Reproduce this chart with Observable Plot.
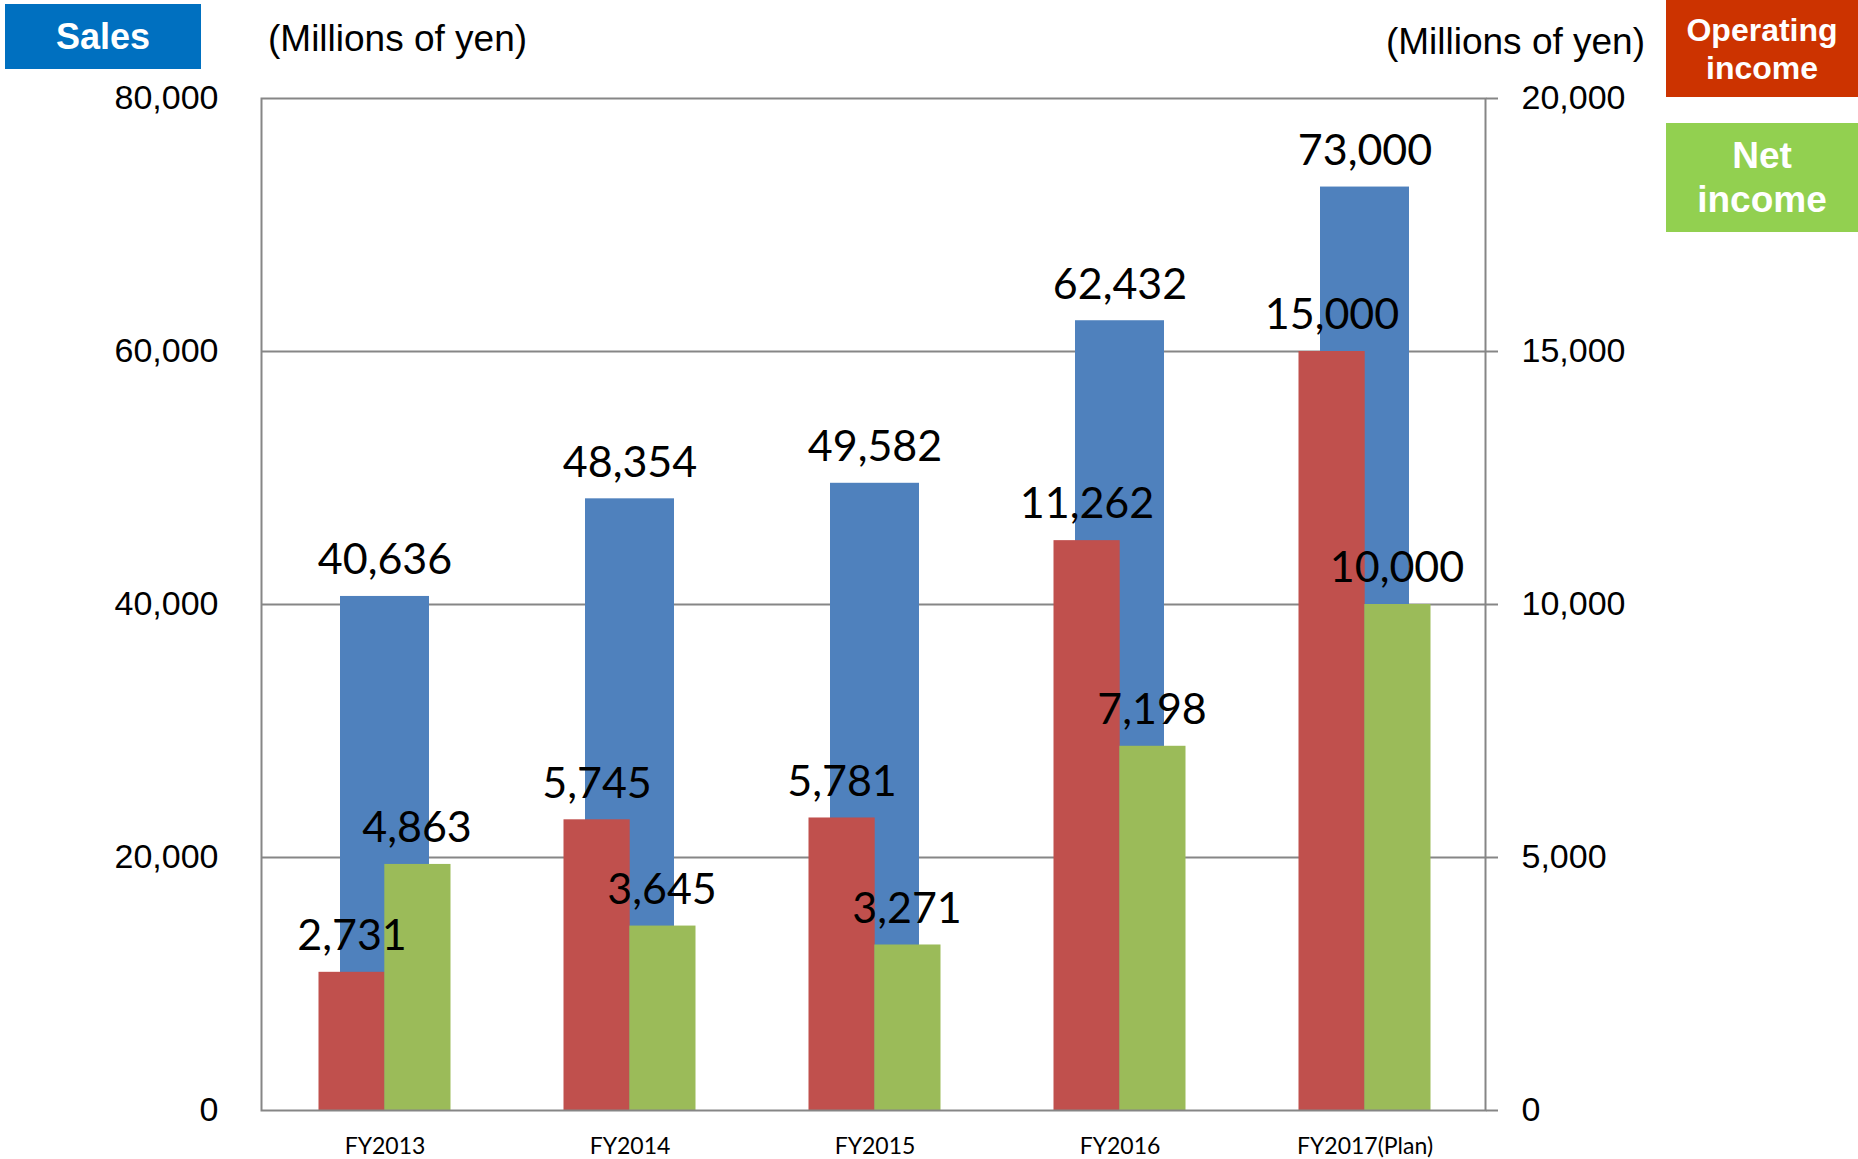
<!DOCTYPE html>
<html>
<head>
<meta charset="utf-8">
<script src="https://cdn.jsdelivr.net/npm/d3@7"></script>
<script src="https://cdn.jsdelivr.net/npm/@observablehq/plot@0.6"></script>
<style>
  html, body { margin: 0; padding: 0; background: #fff; }
  #wrap { position: relative; width: 1858px; height: 1159px; overflow: hidden; background: #fff; }
  #chart { position: absolute; left: 0; top: 0; }
  .box { position: absolute; color: #fff; font-family: "Liberation Sans", Arial, sans-serif; font-weight: bold; text-align: center; display: flex; align-items: center; justify-content: center; }
  .unit { position: absolute; font-family: "Liberation Sans", Arial, sans-serif; font-size: 37px; color: #000; line-height: 1; white-space: nowrap; }
</style>
</head>
<body>
<div id="wrap">
  <div id="chart"></div>
  <div class="box" style="left:5px;top:4px;width:196px;height:65px;background:#0070C0;font-size:36px;">Sales</div>
  <div class="unit" style="left:268px;top:20px;">(Millions of yen)</div>
  <div class="unit" style="right:213px;top:23px;">(Millions of yen)</div>
  <div class="box" style="left:1666px;top:0px;width:192px;height:97px;background:#CC3300;font-size:32px;line-height:38px;">Operating<br>income</div>
  <div class="box" style="left:1666px;top:123px;width:192px;height:109px;background:#92D050;font-size:37px;line-height:44px;">Net<br>income</div>
</div>
<script>
const categories = ["FY2013", "FY2014", "FY2015", "FY2016", "FY2017(Plan)"];
const sales = [40636, 48354, 49582, 62432, 73000];
const operatingIncome = [2731, 5745, 5781, 11262, 15000];
const netIncome = [4863, 3645, 3271, 7198, 10000];
const leftTicks = [0, 20000, 40000, 60000, 80000];
const rightTicks = [0, 5000, 10000, 15000, 20000];

const ratio = leftTicks[leftTicks.length - 1] / rightTicks[rightTicks.length - 1];
const fmt = d3.format(",");
const rows = categories.map((c, i) => ({
  cat: c,
  sales: sales[i],
  op: operatingIncome[i],
  net: netIncome[i]
}));

const grey = "#868686";
const labelFont = "Lato, 'Open Sans', sans-serif";

const chart = Plot.plot({
  width: 1858,
  height: 1159,
  marginLeft: 261,
  marginRight: 373,
  marginTop: 98,
  marginBottom: 49,
  style: { fontFamily: "'Liberation Sans', Arial, sans-serif", color: "#000", background: "transparent" },
  x: { domain: categories, padding: 0, range: [261.5, 1487], label: null },
  y: { domain: [0, leftTicks[leftTicks.length - 1]], label: null },
  marks: [
    Plot.ruleY(leftTicks.slice(1, -1), { stroke: grey, strokeWidth: 2 }),
    Plot.barY(rows, { x: "cat", y: "sales", fill: "#4F81BD", insetLeft: 78, insetRight: 78 }),
    Plot.barY(rows, { x: "cat", y: d => d.op * ratio, fill: "#C0504D", insetLeft: 56.5, insetRight: 122.3 }),
    Plot.barY(rows, { x: "cat", y: d => d.net * ratio, fill: "#9BBB59", insetLeft: 122.3, insetRight: 56.5 }),
    Plot.frame({ stroke: grey, strokeWidth: 2 }),
    Plot.axisY(leftTicks, { anchor: "left", tickSize: 0, tickPadding: 43, fontSize: 34, tickFormat: fmt, label: null }),
    Plot.axisY(leftTicks, { anchor: "right", tickSize: 12, tickPadding: 24, fontSize: 34, stroke: grey, strokeWidth: 2, tickFormat: d => fmt(d / ratio), label: null }),
    Plot.axisX({ tickSize: 0, tickPadding: 27, fontSize: 23, fontWeight: 400, fontFamily: labelFont, label: null }),
    Plot.text(rows, { x: "cat", y: "sales", text: d => fmt(d.sales), dy: -36, fontSize: 43, fontFamily: labelFont, fill: "#000" }),
    Plot.text(rows, { x: "cat", y: d => d.op * ratio, text: d => fmt(d.op), dx: -33, dy: -36, fontSize: 43, fontFamily: labelFont, fill: "#000" }),
    Plot.text(rows, { x: "cat", y: d => d.net * ratio, text: d => fmt(d.net), dx: 32, dy: -36, fontSize: 43, fontFamily: labelFont, fill: "#000" })
  ]
});
document.getElementById("chart").appendChild(chart);
</script>
</body>
</html>
